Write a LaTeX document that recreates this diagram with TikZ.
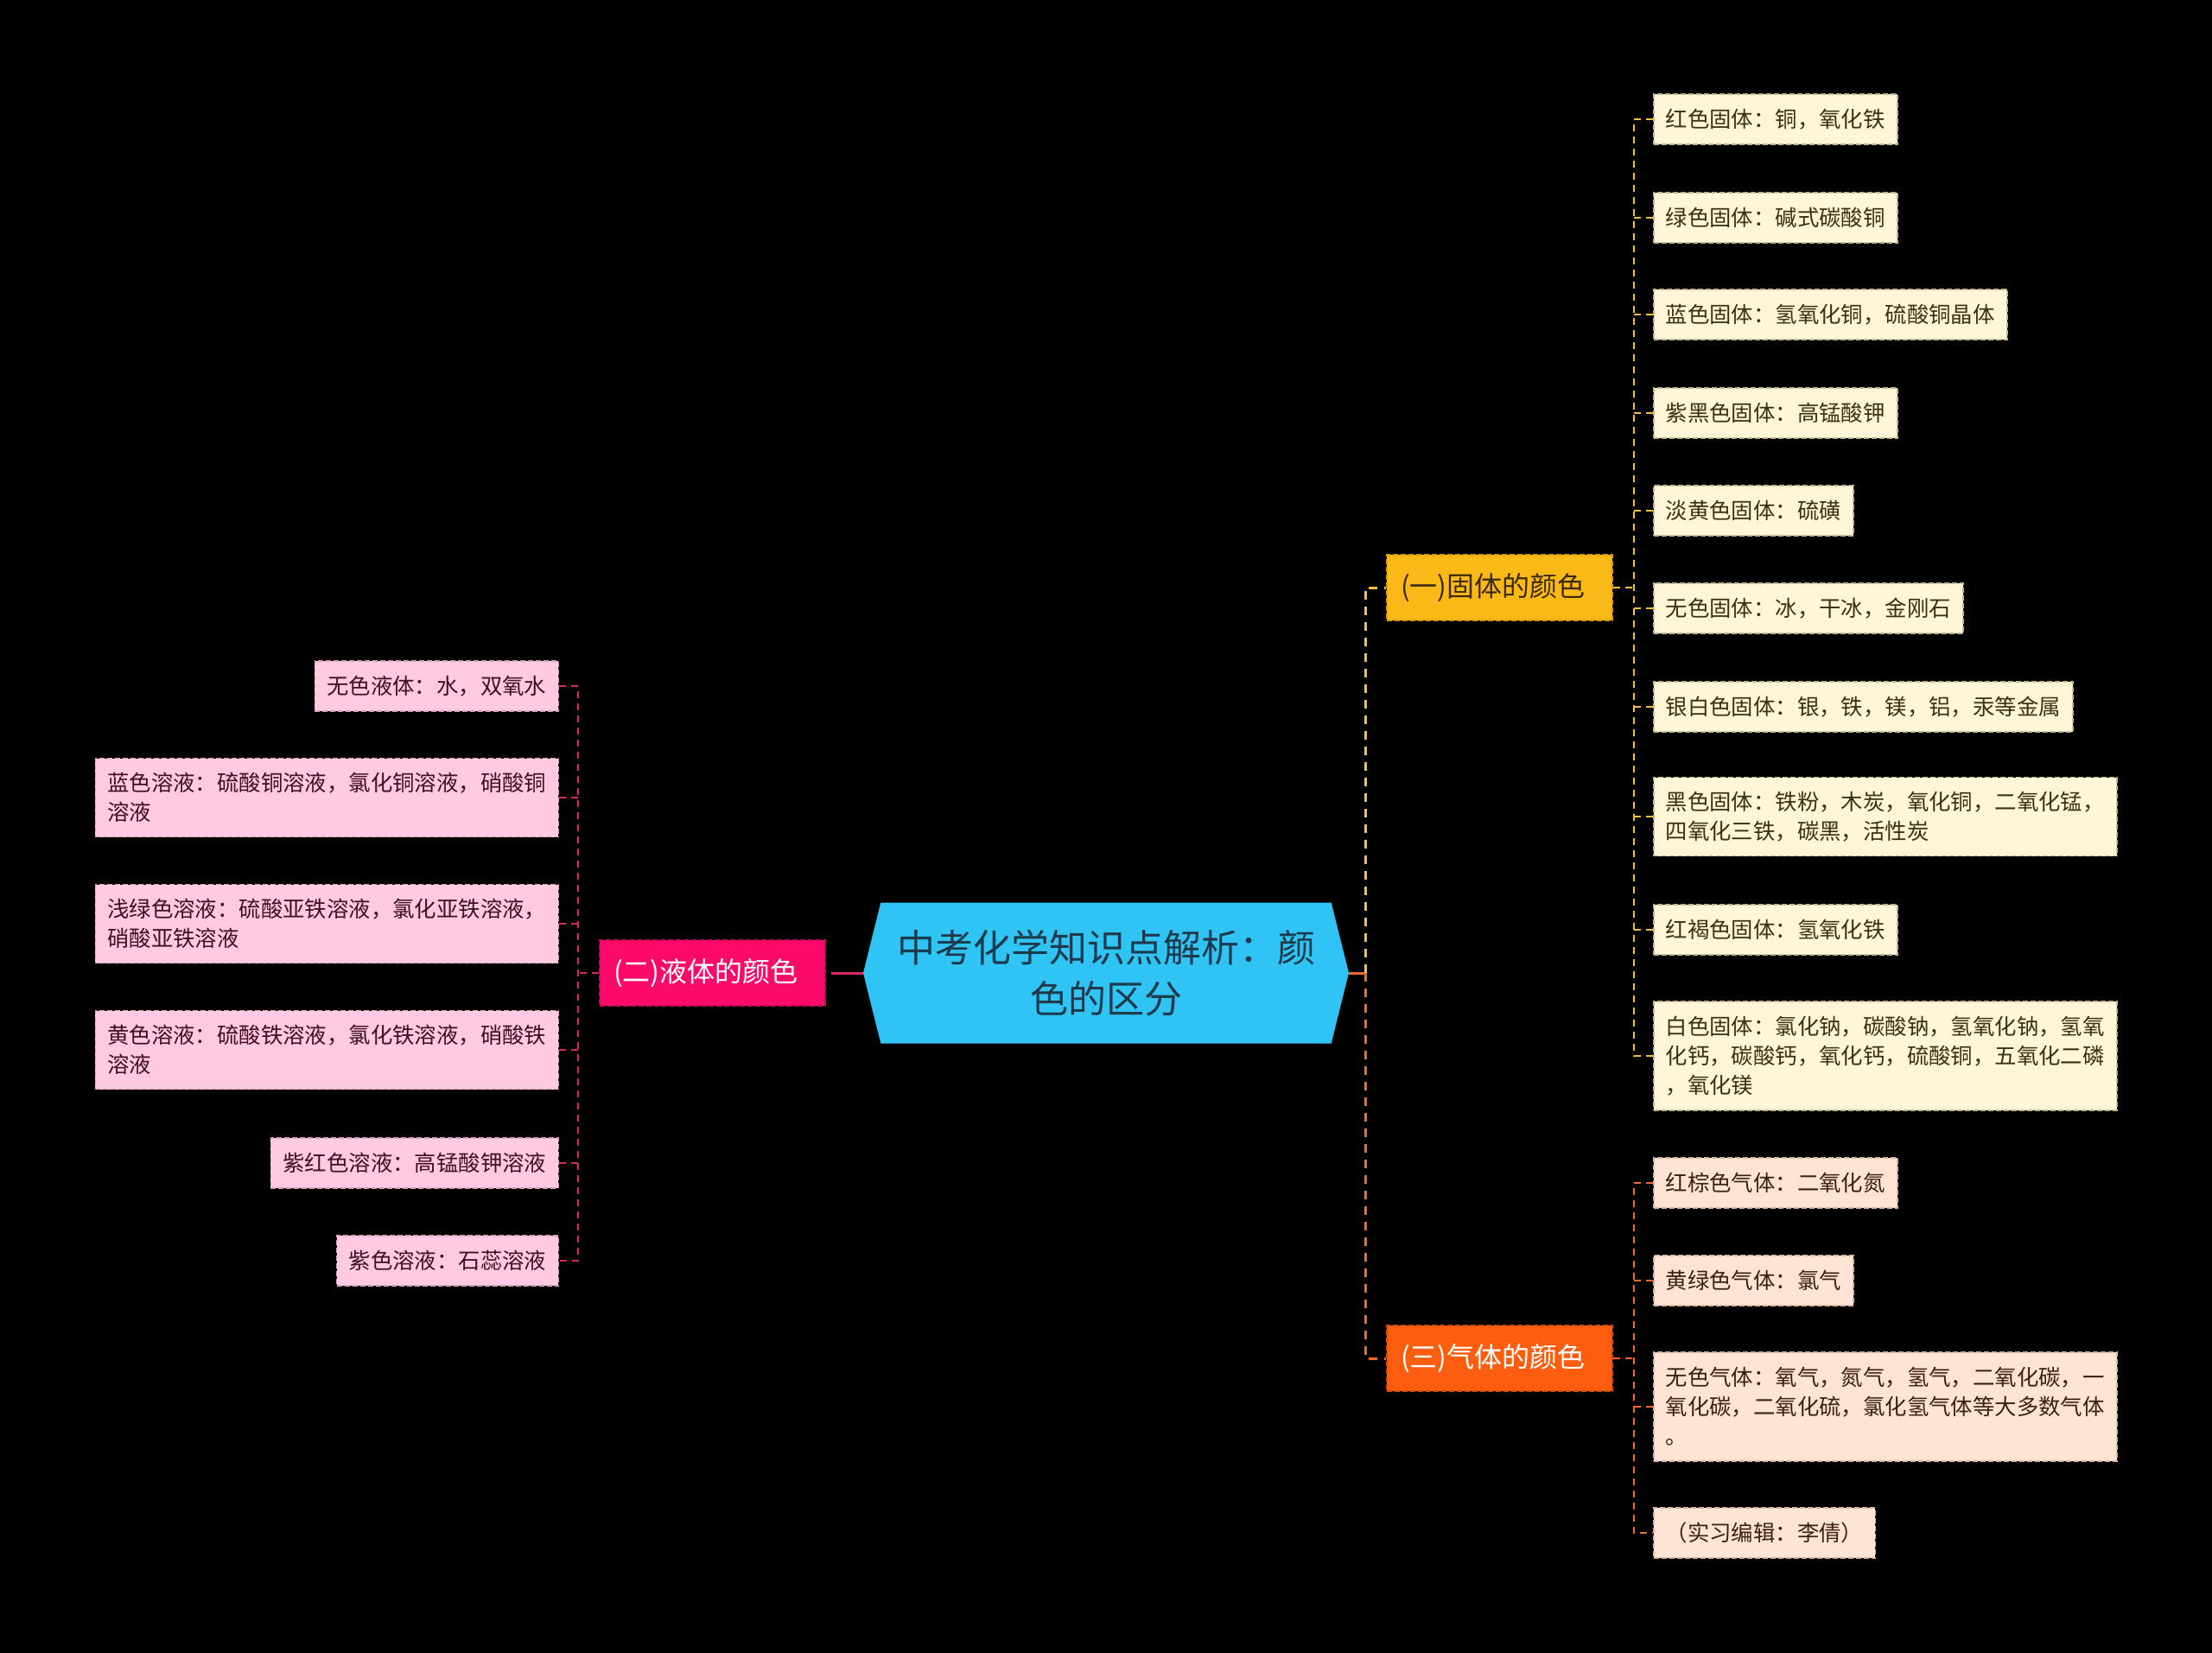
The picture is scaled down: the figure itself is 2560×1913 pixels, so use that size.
\documentclass[tikz,border=0pt]{standalone}
\usepackage{fontspec}
\setmainfont{Noto Sans CJK SC}
\usetikzlibrary{positioning, shapes.symbols}
\definecolor{rootblue}{HTML}{2FC4F4}
\definecolor{rootink}{HTML}{1D3A4C}
\definecolor{solidgold}{HTML}{FBB917}
\definecolor{solidedge}{HTML}{D99A08}
\definecolor{solidink}{HTML}{3A2A05}
\definecolor{solidleaf}{HTML}{FFF6DA}
\definecolor{solidleafedge}{HTML}{C4B78E}
\definecolor{solidleafink}{HTML}{3C3010}
\definecolor{solidwire}{HTML}{F2C040}
\definecolor{liquidpink}{HTML}{FB0A6A}
\definecolor{liquidedge}{HTML}{C8085A}
\definecolor{liquidleaf}{HTML}{FFCAE2}
\definecolor{liquidleafedge}{HTML}{D9A0BA}
\definecolor{liquidleafink}{HTML}{3E1020}
\definecolor{liquidwire}{HTML}{D8286C}
\definecolor{gasorange}{HTML}{FD5D0E}
\definecolor{gasedge}{HTML}{D04A06}
\definecolor{gasleaf}{HTML}{FFE3D5}
\definecolor{gasleafedge}{HTML}{D9B49E}
\definecolor{gasleafink}{HTML}{3A2010}
\definecolor{gaswire}{HTML}{F0692A}

\begin{document}
\begin{tikzpicture}[x=1pt, y=-1pt,
    % Node styles
    root node/.style={
        shape=signal,
        signal to=west and east,
        signal pointer angle=152,
        fill=rootblue,
        text=rootink,
        minimum width=562pt,
        minimum height=163pt,
        inner sep=0pt,
        align=center,
        font=\fontsize{44}{59}\selectfont
    },
    topic node/.style={
        draw,
        dash pattern=on 6pt off 3pt,
        line width=1.5pt,
        text width=229pt,
        align=left,
        minimum height=76pt,
        inner xsep=16pt,
        inner ysep=0pt,
        font=\fontsize{32}{40}\selectfont
    },
    leaf node/.style={
        draw,
        dash pattern=on 6pt off 3pt,
        line width=1.5pt,
        inner xsep=14pt,
        inner ysep=0pt,
        align=left,
        font=\fontsize{25.4}{34}\selectfont
    },
    solid leaf/.style={leaf node, fill=solidleaf, draw=solidleafedge, text=solidleafink, anchor=west},
    liquid leaf/.style={leaf node, fill=liquidleaf, draw=liquidleafedge, text=liquidleafink, anchor=east},
    gas leaf/.style={leaf node, fill=gasleaf, draw=gasleafedge, text=gasleafink, anchor=west},
    wire/.style={line width=2pt, dash pattern=on 8pt off 6pt},
    trunk/.style={line width=3pt, dash pattern=on 10pt off 8pt}
]

% Canvas
\fill[black] (0,0) rectangle (2560,1913);
\useasboundingbox (0,0) rectangle (2560,1913);

% Trunk positions
\def\leftx{647}
\def\rightx{1913}
\coordinate (mt) at (1580,0);
\coordinate (lt) at (669,0);
\coordinate (rt) at (1891,0);
\coordinate (lj) at (972,1126);

% Root
\node[root node] (root) at (1280,1126) {中考化学知识点解析：颜\\色的区分};

% Topics
\node[topic node, fill=solidgold, draw=solidedge, text=solidink] (T-1) at (1735.5,680) {(一)固体的颜色};
\node[topic node, fill=liquidpink, draw=liquidedge, text=white] (T-2) at (824.5,1126) {(二)液体的颜色};
\node[topic node, fill=gasorange, draw=gasedge, text=white] (T-3) at (1735.5,1572) {(三)气体的颜色};

% Solid leaves
\foreach \y/\h/\txt [count=\i] in {
    138/58/{红色固体：铜，氧化铁},
    252/58/{绿色固体：碱式碳酸铜},
    364/58/{蓝色固体：氢氧化铜，硫酸铜晶体},
    478/58/{紫黑色固体：高锰酸钾},
    591/58/{淡黄色固体：硫磺},
    704/58/{无色固体：冰，干冰，金刚石},
    818/58/{银白色固体：银，铁，镁，铝，汞等金属},
    945/91/{黑色固体：铁粉，木炭，氧化铜，二氧化锰，\\四氧化三铁，碳黑，活性炭},
    1076/58/{红褐色固体：氢氧化铁},
    1222/126/{白色固体：氯化钠，碳酸钠，氢氧化钠，氢氧\\化钙，碳酸钙，氧化钙，硫酸铜，五氧化二磷\\，氧化镁}} {
    \node[solid leaf, minimum height=\h pt] (S-\i) at (\rightx,\y) {\txt};
}

% Liquid leaves
\foreach \y/\h/\txt [count=\i] in {
    794/58/{无色液体：水，双氧水},
    923/91/{蓝色溶液：硫酸铜溶液，氯化铜溶液，硝酸铜\\溶液},
    1069/91/{浅绿色溶液：硫酸亚铁溶液，氯化亚铁溶液，\\硝酸亚铁溶液},
    1215/91/{黄色溶液：硫酸铁溶液，氯化铁溶液，硝酸铁\\溶液},
    1346/58/{紫红色溶液：高锰酸钾溶液},
    1459/58/{紫色溶液：石蕊溶液}} {
    \node[liquid leaf, minimum height=\h pt] (L-\i) at (\leftx,\y) {\txt};
}

% Gas leaves
\foreach \y/\h/\txt [count=\i] in {
    1369/58/{红棕色气体：二氧化氮},
    1482/58/{黄绿色气体：氯气},
    1628/126/{无色气体：氧气，氮气，氢气，二氧化碳，一\\氧化碳，二氧化硫，氯化氢气体等大多数气体\\。},
    1774/58/{（实习编辑：李倩）}} {
    \node[gas leaf, minimum height=\h pt] (G-\i) at (\rightx,\y) {\txt};
}

% Root to topics
\draw[gaswire, line width=3pt] (root.east) -- (root.east -| mt);
\draw[trunk, solidwire] (root.east -| mt) |- (T-1.west);
\draw[trunk, gaswire] (root.east -| mt) |- (T-3.west);
\draw[liquidwire, line width=3pt] (root.west) -- (lj);
\draw[trunk, liquidwire] (lj) -- (T-2.east);

% Solid branch
\draw[wire, solidwire] (T-1.east) -- (T-1.east -| rt);
\draw[wire, solidwire] (S-1.west) -- (S-1.west -| rt) -- (S-10.west -| rt) -- (S-10.west);
\foreach \i in {2,...,9} {
    \draw[wire, solidwire] (S-\i.west -| rt) -- (S-\i.west);
}

% Liquid branch
\draw[wire, liquidwire] (T-2.west) -- (T-2.west -| lt);
\draw[wire, liquidwire] (L-1.east) -- (L-1.east -| lt) -- (L-6.east -| lt) -- (L-6.east);
\foreach \i in {2,...,5} {
    \draw[wire, liquidwire] (L-\i.east -| lt) -- (L-\i.east);
}

% Gas branch
\draw[wire, gaswire] (T-3.east) -- (T-3.east -| rt);
\draw[wire, gaswire] (G-1.west) -- (G-1.west -| rt) -- (G-4.west -| rt) -- (G-4.west);
\foreach \i in {2,3} {
    \draw[wire, gaswire] (G-\i.west -| rt) -- (G-\i.west);
}

\end{tikzpicture}
\end{document}
